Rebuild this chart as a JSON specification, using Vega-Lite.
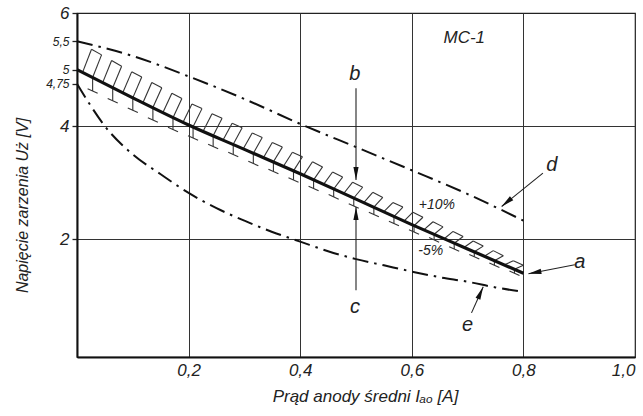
{
  "$schema": "https://vega.github.io/schema/vega-lite/v6.json",
  "width": 558,
  "height": 344,
  "autosize": {"type": "none"},
  "padding": {"left": 77, "top": 13, "right": 8, "bottom": 59},
  "background": "white",
  "config": {
    "view": {"stroke": "#222", "strokeWidth": 1.2},
    "font": "Liberation Sans"
  },
  "datasets": {
    "curves": [
      {"curve": "a", "x": 0, "y": 5.0}, {"curve": "a", "x": 0.1, "y": 4.5}, {"curve": "a", "x": 0.2, "y": 4.02}, {"curve": "a", "x": 0.3, "y": 3.59}, {"curve": "a", "x": 0.4, "y": 3.16}, {"curve": "a", "x": 0.5, "y": 2.71}, {"curve": "a", "x": 0.6, "y": 2.26}, {"curve": "a", "x": 0.7, "y": 1.83}, {"curve": "a", "x": 0.8, "y": 1.40},
      {"curve": "d", "x": 0, "y": 5.5}, {"curve": "d", "x": 0.1, "y": 5.24}, {"curve": "d", "x": 0.2, "y": 4.88}, {"curve": "d", "x": 0.3, "y": 4.48}, {"curve": "d", "x": 0.4, "y": 4.04}, {"curve": "d", "x": 0.5, "y": 3.63}, {"curve": "d", "x": 0.6, "y": 3.22}, {"curve": "d", "x": 0.7, "y": 2.80}, {"curve": "d", "x": 0.8, "y": 2.33},
      {"curve": "e", "x": 0, "y": 4.75}, {"curve": "e", "x": 0.02, "y": 4.43}, {"curve": "e", "x": 0.05, "y": 4.0}, {"curve": "e", "x": 0.1, "y": 3.5}, {"curve": "e", "x": 0.15, "y": 3.15}, {"curve": "e", "x": 0.2, "y": 2.82}, {"curve": "e", "x": 0.25, "y": 2.55}, {"curve": "e", "x": 0.3, "y": 2.33}, {"curve": "e", "x": 0.35, "y": 2.13}, {"curve": "e", "x": 0.4, "y": 1.96}, {"curve": "e", "x": 0.45, "y": 1.79}, {"curve": "e", "x": 0.5, "y": 1.65}, {"curve": "e", "x": 0.55, "y": 1.54}, {"curve": "e", "x": 0.6, "y": 1.43}, {"curve": "e", "x": 0.65, "y": 1.33}, {"curve": "e", "x": 0.7, "y": 1.25}, {"curve": "e", "x": 0.75, "y": 1.15}, {"curve": "e", "x": 0.8, "y": 1.07}
    ],
    "hatch": [
      {"x": 0.010, "y": 4.95, "x2": 0.026, "y2": 5.36}, {"x": 0.046, "y": 4.77, "x2": 0.062, "y2": 5.16}, {"x": 0.082, "y": 4.59, "x2": 0.098, "y2": 4.96}, {"x": 0.118, "y": 4.41, "x2": 0.134, "y2": 4.77}, {"x": 0.154, "y": 4.24, "x2": 0.170, "y2": 4.58}, {"x": 0.190, "y": 4.07, "x2": 0.206, "y2": 4.39}, {"x": 0.226, "y": 3.91, "x2": 0.242, "y2": 4.22}, {"x": 0.262, "y": 3.76, "x2": 0.278, "y2": 4.05}, {"x": 0.298, "y": 3.60, "x2": 0.314, "y2": 3.88}, {"x": 0.334, "y": 3.44, "x2": 0.350, "y2": 3.71}, {"x": 0.370, "y": 3.29, "x2": 0.386, "y2": 3.54}, {"x": 0.406, "y": 3.13, "x2": 0.422, "y2": 3.37}, {"x": 0.442, "y": 2.97, "x2": 0.458, "y2": 3.19}, {"x": 0.478, "y": 2.81, "x2": 0.494, "y2": 3.01}, {"x": 0.514, "y": 2.65, "x2": 0.530, "y2": 2.83}, {"x": 0.550, "y": 2.49, "x2": 0.566, "y2": 2.65}, {"x": 0.586, "y": 2.32, "x2": 0.602, "y2": 2.48}, {"x": 0.622, "y": 2.17, "x2": 0.638, "y2": 2.31}, {"x": 0.658, "y": 2.01, "x2": 0.674, "y2": 2.14}, {"x": 0.694, "y": 1.86, "x2": 0.710, "y2": 1.97}, {"x": 0.730, "y": 1.70, "x2": 0.746, "y2": 1.80}, {"x": 0.766, "y": 1.55, "x2": 0.782, "y2": 1.62},
      {"x": 0.028, "y": 4.86, "x2": 0.044, "y2": 5.26}, {"x": 0.064, "y": 4.68, "x2": 0.080, "y2": 5.06}, {"x": 0.100, "y": 4.50, "x2": 0.116, "y2": 4.87}, {"x": 0.136, "y": 4.33, "x2": 0.152, "y2": 4.68}, {"x": 0.172, "y": 4.15, "x2": 0.188, "y2": 4.49}, {"x": 0.208, "y": 3.99, "x2": 0.224, "y2": 4.31}, {"x": 0.244, "y": 3.83, "x2": 0.260, "y2": 4.14}, {"x": 0.280, "y": 3.68, "x2": 0.296, "y2": 3.97}, {"x": 0.316, "y": 3.52, "x2": 0.332, "y2": 3.80}, {"x": 0.352, "y": 3.37, "x2": 0.368, "y2": 3.63}, {"x": 0.388, "y": 3.21, "x2": 0.404, "y2": 3.46}, {"x": 0.424, "y": 3.05, "x2": 0.440, "y2": 3.28}, {"x": 0.460, "y": 2.89, "x2": 0.476, "y2": 3.10}, {"x": 0.496, "y": 2.73, "x2": 0.512, "y2": 2.92}, {"x": 0.532, "y": 2.57, "x2": 0.548, "y2": 2.74}, {"x": 0.568, "y": 2.40, "x2": 0.584, "y2": 2.57}, {"x": 0.604, "y": 2.24, "x2": 0.620, "y2": 2.39}, {"x": 0.640, "y": 2.09, "x2": 0.656, "y2": 2.22}, {"x": 0.676, "y": 1.93, "x2": 0.692, "y2": 2.05}, {"x": 0.712, "y": 1.78, "x2": 0.728, "y2": 1.88}, {"x": 0.748, "y": 1.62, "x2": 0.764, "y2": 1.71}, {"x": 0.784, "y": 1.47, "x2": 0.800, "y2": 1.54},
      {"x": 0.026, "y": 5.36, "x2": 0.044, "y2": 5.26}, {"x": 0.062, "y": 5.16, "x2": 0.080, "y2": 5.06}, {"x": 0.098, "y": 4.96, "x2": 0.116, "y2": 4.87}, {"x": 0.134, "y": 4.77, "x2": 0.152, "y2": 4.68}, {"x": 0.170, "y": 4.58, "x2": 0.188, "y2": 4.49}, {"x": 0.206, "y": 4.39, "x2": 0.224, "y2": 4.31}, {"x": 0.242, "y": 4.22, "x2": 0.260, "y2": 4.14}, {"x": 0.278, "y": 4.05, "x2": 0.296, "y2": 3.97}, {"x": 0.314, "y": 3.88, "x2": 0.332, "y2": 3.80}, {"x": 0.350, "y": 3.71, "x2": 0.368, "y2": 3.63}, {"x": 0.386, "y": 3.54, "x2": 0.404, "y2": 3.46}, {"x": 0.422, "y": 3.37, "x2": 0.440, "y2": 3.28}, {"x": 0.458, "y": 3.19, "x2": 0.476, "y2": 3.10}, {"x": 0.494, "y": 3.01, "x2": 0.512, "y2": 2.92}, {"x": 0.530, "y": 2.83, "x2": 0.548, "y2": 2.74}, {"x": 0.566, "y": 2.65, "x2": 0.584, "y2": 2.57}, {"x": 0.602, "y": 2.48, "x2": 0.620, "y2": 2.39}, {"x": 0.638, "y": 2.31, "x2": 0.656, "y2": 2.22}, {"x": 0.674, "y": 2.14, "x2": 0.692, "y2": 2.05}, {"x": 0.710, "y": 1.97, "x2": 0.728, "y2": 1.88}, {"x": 0.746, "y": 1.80, "x2": 0.764, "y2": 1.71}, {"x": 0.782, "y": 1.62, "x2": 0.800, "y2": 1.54},
      {"x": 0.028, "y": 4.86, "x2": 0.028, "y2": 4.62}, {"x": 0.064, "y": 4.68, "x2": 0.064, "y2": 4.45}, {"x": 0.100, "y": 4.50, "x2": 0.100, "y2": 4.28}, {"x": 0.136, "y": 4.33, "x2": 0.136, "y2": 4.11}, {"x": 0.172, "y": 4.15, "x2": 0.172, "y2": 3.94}, {"x": 0.208, "y": 3.99, "x2": 0.208, "y2": 3.79}, {"x": 0.244, "y": 3.83, "x2": 0.244, "y2": 3.64}, {"x": 0.280, "y": 3.68, "x2": 0.280, "y2": 3.50}, {"x": 0.316, "y": 3.52, "x2": 0.316, "y2": 3.34}, {"x": 0.352, "y": 3.37, "x2": 0.352, "y2": 3.20}, {"x": 0.388, "y": 3.21, "x2": 0.388, "y2": 3.05}, {"x": 0.424, "y": 3.05, "x2": 0.424, "y2": 2.90}, {"x": 0.460, "y": 2.89, "x2": 0.460, "y2": 2.75}, {"x": 0.496, "y": 2.73, "x2": 0.496, "y2": 2.59}, {"x": 0.532, "y": 2.57, "x2": 0.532, "y2": 2.44}, {"x": 0.568, "y": 2.40, "x2": 0.568, "y2": 2.28}, {"x": 0.604, "y": 2.24, "x2": 0.604, "y2": 2.13}, {"x": 0.640, "y": 2.09, "x2": 0.640, "y2": 1.99}, {"x": 0.676, "y": 1.93, "x2": 0.676, "y2": 1.83}, {"x": 0.712, "y": 1.78, "x2": 0.712, "y2": 1.69}, {"x": 0.748, "y": 1.62, "x2": 0.748, "y2": 1.54}, {"x": 0.784, "y": 1.47, "x2": 0.784, "y2": 1.40},
      {"x": 0.019, "y": 4.66, "x2": 0.037, "y2": 4.58}, {"x": 0.055, "y": 4.49, "x2": 0.073, "y2": 4.41}, {"x": 0.091, "y": 4.32, "x2": 0.109, "y2": 4.24}, {"x": 0.127, "y": 4.15, "x2": 0.145, "y2": 4.07}, {"x": 0.163, "y": 3.98, "x2": 0.181, "y2": 3.90}, {"x": 0.199, "y": 3.83, "x2": 0.217, "y2": 3.75}, {"x": 0.235, "y": 3.68, "x2": 0.253, "y2": 3.60}, {"x": 0.271, "y": 3.54, "x2": 0.289, "y2": 3.46}, {"x": 0.307, "y": 3.38, "x2": 0.325, "y2": 3.30}, {"x": 0.343, "y": 3.24, "x2": 0.361, "y2": 3.16}, {"x": 0.379, "y": 3.09, "x2": 0.397, "y2": 3.01}, {"x": 0.415, "y": 2.94, "x2": 0.433, "y2": 2.86}, {"x": 0.451, "y": 2.79, "x2": 0.469, "y2": 2.71}, {"x": 0.487, "y": 2.63, "x2": 0.505, "y2": 2.55}, {"x": 0.523, "y": 2.48, "x2": 0.541, "y2": 2.40}, {"x": 0.559, "y": 2.32, "x2": 0.577, "y2": 2.24}, {"x": 0.595, "y": 2.17, "x2": 0.613, "y2": 2.09}, {"x": 0.631, "y": 2.03, "x2": 0.649, "y2": 1.95}, {"x": 0.667, "y": 1.87, "x2": 0.685, "y2": 1.79}, {"x": 0.703, "y": 1.73, "x2": 0.721, "y2": 1.65}, {"x": 0.739, "y": 1.58, "x2": 0.757, "y2": 1.50}, {"x": 0.775, "y": 1.44, "x2": 0.793, "y2": 1.36}
    ],
    "arrows": [
      {"id": "b", "x": 0.5, "y": 4.67, "x2": 0.5, "y2": 3.05},
      {"id": "c", "x": 0.5, "y": 1.10, "x2": 0.5, "y2": 2.57},
      {"id": "d", "x": 0.835, "y": 3.17, "x2": 0.761, "y2": 2.58},
      {"id": "a", "x": 0.892, "y": 1.55, "x2": 0.809, "y2": 1.39},
      {"id": "e", "x": 0.707, "y": 0.70, "x2": 0.728, "y2": 1.16}
    ],
    "labels": [
      {"kind": "name", "x": 0.694, "y": 5.55, "text": "MC-1"},
      {"kind": "letter", "x": 0.498, "y": 4.92, "text": "b"},
      {"kind": "letter", "x": 0.498, "y": 0.80, "text": "c"},
      {"kind": "letter", "x": 0.851, "y": 3.31, "text": "d"},
      {"kind": "letter", "x": 0.901, "y": 1.60, "text": "a"},
      {"kind": "letter", "x": 0.700, "y": 0.49, "text": "e"},
      {"kind": "pct", "x": 0.645, "y": 2.61, "text": "+10%"},
      {"kind": "pct", "x": 0.634, "y": 1.80, "text": "-5%"}
    ]
  },
  "layer": [
    {
      "data": {"name": "hatch"},
      "mark": {"type": "rule", "stroke": "#333", "strokeWidth": 1.1},
      "encoding": {
        "x": {
          "field": "x", "type": "quantitative",
          "scale": {"domain": [0, 1], "nice": false, "zero": false},
          "axis": {
            "values": [0.2, 0.4, 0.6, 0.8, 1.0],
            "labelExpr": "replace(format(datum.value, '.1f'), '.', ',')",
            "grid": true, "gridColor": "#333", "gridWidth": 1,
            "ticks": false,
            "domain": true, "domainColor": "#111", "domainWidth": 2,
            "labelFont": "Liberation Sans", "labelFontStyle": "italic", "labelFontSize": 17,
            "labelColor": "#222", "labelPadding": 5, "labelFlush": true, "labelOverlap": false,
            "title": "Prąd anody średni Iₐₒ [A]",
            "titleFont": "Liberation Sans", "titleFontStyle": "italic", "titleFontWeight": "normal",
            "titleFontSize": 17, "titleColor": "#222",
            "titleX": 288, "titleY": 31, "titleBaseline": "top"
          }
        },
        "y": {
          "field": "y", "type": "quantitative",
          "scale": {"domain": [-0.08, 6], "nice": false, "zero": false},
          "axis": {
            "values": [2, 4, 4.75, 5, 5.5, 6],
            "labelExpr": "replace(toString(datum.value), '.', ',')",
            "grid": true, "gridColor": "#333", "gridWidth": 1,
            "gridOpacity": {"condition": {"test": "datum.value == 2 || datum.value == 4", "value": 1}, "value": 0},
            "ticks": true, "tickSize": 5, "tickColor": "#222", "tickWidth": 1.3,
            "domain": true, "domainColor": "#111", "domainWidth": 2,
            "labelFont": "Liberation Sans", "labelFontStyle": "italic",
            "labelFontSize": {"condition": {"test": "datum.value == 2 || datum.value == 4 || datum.value == 6", "value": 17}, "value": 12},
            "labelColor": "#222", "labelPadding": 3, "labelOverlap": false, "labelFlush": false,
            "title": "Napięcie zarzenia Uż [V]",
            "titleFont": "Liberation Sans", "titleFontStyle": "italic", "titleFontWeight": "normal",
            "titleFontSize": 16, "titleColor": "#222",
            "titleX": -55, "titleY": 192, "titleBaseline": "middle"
          }
        },
        "x2": {"field": "x2"},
        "y2": {"field": "y2"}
      }
    },
    {
      "data": {"name": "curves"},
      "transform": [{"filter": "datum.curve == 'a'"}],
      "mark": {"type": "line", "stroke": "#111", "strokeWidth": 3.2, "interpolate": "monotone"},
      "encoding": {
        "x": {"field": "x", "type": "quantitative"},
        "y": {"field": "y", "type": "quantitative"}
      }
    },
    {
      "data": {"name": "curves"},
      "transform": [{"filter": "datum.curve != 'a'"}],
      "mark": {"type": "line", "stroke": "#111", "strokeWidth": 2, "strokeDash": [16, 6, 2.5, 6], "interpolate": "monotone"},
      "encoding": {
        "x": {"field": "x", "type": "quantitative"},
        "y": {"field": "y", "type": "quantitative"},
        "detail": {"field": "curve", "type": "nominal"}
      }
    },
    {
      "data": {"name": "arrows"},
      "mark": {"type": "rule", "stroke": "#222", "strokeWidth": 1.1},
      "encoding": {
        "x": {"field": "x", "type": "quantitative"},
        "y": {"field": "y", "type": "quantitative"},
        "x2": {"field": "x2"},
        "y2": {"field": "y2"}
      }
    },
    {
      "data": {"name": "arrows"},
      "transform": [{"filter": "datum.id == 'a'"}],
      "mark": {"type": "point", "shape": "M0,0L0.4,2L-0.4,2Z", "filled": true, "fill": "#111", "strokeWidth": 0, "size": 169, "opacity": 1, "angle": 259},
      "encoding": {"x": {"field": "x2", "type": "quantitative"}, "y": {"field": "y2", "type": "quantitative"}}
    },
    {
      "data": {"name": "arrows"},
      "transform": [{"filter": "datum.id == 'b'"}],
      "mark": {"type": "point", "shape": "M0,0L0.4,2L-0.4,2Z", "filled": true, "fill": "#111", "strokeWidth": 0, "size": 169, "opacity": 1, "angle": 180},
      "encoding": {"x": {"field": "x2", "type": "quantitative"}, "y": {"field": "y2", "type": "quantitative"}}
    },
    {
      "data": {"name": "arrows"},
      "transform": [{"filter": "datum.id == 'c'"}],
      "mark": {"type": "point", "shape": "M0,0L0.4,2L-0.4,2Z", "filled": true, "fill": "#111", "strokeWidth": 0, "size": 169, "opacity": 1, "angle": 0},
      "encoding": {"x": {"field": "x2", "type": "quantitative"}, "y": {"field": "y2", "type": "quantitative"}}
    },
    {
      "data": {"name": "arrows"},
      "transform": [{"filter": "datum.id == 'd'"}],
      "mark": {"type": "point", "shape": "M0,0L0.4,2L-0.4,2Z", "filled": true, "fill": "#111", "strokeWidth": 0, "size": 169, "opacity": 1, "angle": 230},
      "encoding": {"x": {"field": "x2", "type": "quantitative"}, "y": {"field": "y2", "type": "quantitative"}}
    },
    {
      "data": {"name": "arrows"},
      "transform": [{"filter": "datum.id == 'e'"}],
      "mark": {"type": "point", "shape": "M0,0L0.4,2L-0.4,2Z", "filled": true, "fill": "#111", "strokeWidth": 0, "size": 169, "opacity": 1, "angle": 24},
      "encoding": {"x": {"field": "x2", "type": "quantitative"}, "y": {"field": "y2", "type": "quantitative"}}
    },
    {
      "data": {"name": "labels"},
      "transform": [{"filter": "datum.kind == 'letter'"}],
      "mark": {"type": "text", "font": "Liberation Sans", "fontStyle": "italic", "fontSize": 20, "fill": "#222", "align": "center", "baseline": "middle"},
      "encoding": {
        "x": {"field": "x", "type": "quantitative"},
        "y": {"field": "y", "type": "quantitative"},
        "text": {"field": "text"}
      }
    },
    {
      "data": {"name": "labels"},
      "transform": [{"filter": "datum.kind == 'pct'"}],
      "mark": {"type": "text", "font": "Liberation Sans", "fontStyle": "italic", "fontSize": 14, "fill": "#222", "align": "center", "baseline": "middle"},
      "encoding": {
        "x": {"field": "x", "type": "quantitative"},
        "y": {"field": "y", "type": "quantitative"},
        "text": {"field": "text"}
      }
    },
    {
      "data": {"name": "labels"},
      "transform": [{"filter": "datum.kind == 'name'"}],
      "mark": {"type": "text", "font": "Liberation Sans", "fontStyle": "italic", "fontSize": 17, "fill": "#222", "align": "center", "baseline": "middle"},
      "encoding": {
        "x": {"field": "x", "type": "quantitative"},
        "y": {"field": "y", "type": "quantitative"},
        "text": {"field": "text"}
      }
    }
  ]
}
